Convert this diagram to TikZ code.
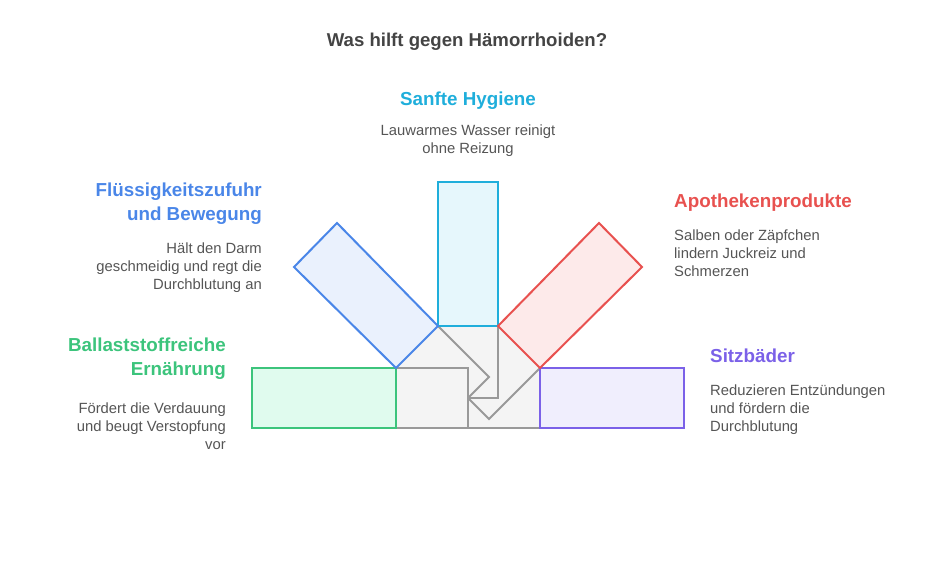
\documentclass[tikz,border=0pt]{standalone}
\usepackage{fontspec}
\setmainfont{Liberation Sans}
\definecolor{cyanS}{HTML}{1FAEDB}\definecolor{cyanF}{HTML}{E6F7FC}
\definecolor{blueS}{HTML}{4A86E8}\definecolor{blueF}{HTML}{EAF1FD}
\definecolor{redS}{HTML}{E8514F}\definecolor{redF}{HTML}{FDEAEA}
\definecolor{greenS}{HTML}{3CC47C}\definecolor{greenF}{HTML}{E0FBEE}
\definecolor{purpS}{HTML}{7B61E8}\definecolor{purpF}{HTML}{F0EEFD}
\definecolor{grayS}{HTML}{999999}\definecolor{grayF}{HTML}{F4F4F4}
\definecolor{txt}{HTML}{555555}\definecolor{ttl}{HTML}{444444}
\tikzset{
  body/.style={font=\fontsize{14.8}{18}\selectfont, text=txt, inner sep=0pt},
  head/.style={font=\fontsize{18.8}{24}\selectfont\bfseries, inner sep=0pt},
  seg/.style={draw=#1, line width=2pt, line join=miter},
  conn/.style={draw=grayS, line width=2pt},
}
\begin{document}
\begin{tikzpicture}[x=1pt,y=-1pt]
\useasboundingbox (0,0) rectangle (936,565);
% coordinates
\coordinate (bl) at (396,368);
\coordinate (ct) at (438,326);
\coordinate (cr) at (498,326);
\coordinate (br) at (540,368);
\coordinate (bb) at (540,428);
\coordinate (ba) at (396,428);
\coordinate (m1) at (468,368);
\coordinate (m2) at (468,428);
\coordinate (p1) at (489,377);
\coordinate (p2) at (468,398);
\coordinate (p3) at (498,398);
\coordinate (p4) at (489,419);
% gray hub
\fill[grayF] (bl) -- (ct) -- (cr) -- (br) -- (bb) -- (ba) -- cycle;
\draw[conn] (bl) -- (m1) -- (m2);
\draw[conn] (ba) -- (bb);
\draw[conn, line join=miter] (ct) -- (p1) -- (p2);
\draw[conn] (cr) -- (p3) -- (p2);
\draw[conn] (br) -- (p4) -- (p2);
% petals
\path[seg=greenS, fill=greenF] (252,368) rectangle (396,428);
\path[seg=purpS, fill=purpF] (540,368) rectangle (684,428);
\path[seg=cyanS, fill=cyanF] (438,182) rectangle (498,326);
\path[seg=blueS, fill=blueF] (bl) -- (ct) -- (337,223) -- (294,267) -- cycle;
\path[seg=redS, fill=redF] (cr) -- (br) -- (642,267) -- (599,223) -- cycle;
% texts (multi-line nodes: base = last line)
\node[head, text=ttl, font=\fontsize{18.6}{22}\selectfont\bfseries, anchor=base] (title) at (467,46) {Was hilft gegen Hämorrhoiden?};
\node[head, text=cyanS, anchor=base] (h1) at (468,105) {Sanfte Hygiene};
\node[body, anchor=base, align=center] (t1) at (468,153) {Lauwarmes Wasser reinigt\\ohne Reizung};
\node[head, text=blueS, anchor=base east, align=right] (h2) at (262,220) {Flüssigkeitszufuhr\\und Bewegung};
\node[body, anchor=base east, align=right] (t2) at (262,289) {Hält den Darm\\geschmeidig und regt die\\Durchblutung an};
\node[head, text=redS, anchor=base west, align=left] (h3) at (674,207) {Apothekenprodukte};
\node[body, anchor=base west, align=left] (t3) at (674,276) {Salben oder Zäpfchen\\lindern Juckreiz und\\Schmerzen};
\node[head, text=purpS, anchor=base west, align=left] (h4) at (710,362) {Sitzbäder};
\node[body, anchor=base west, align=left] (t4) at (710,431) {Reduzieren Entzündungen\\und fördern die\\Durchblutung};
\node[head, text=greenS, anchor=base east, align=right] (h5) at (226,375) {Ballaststoffreiche\\Ernährung};
\node[body, anchor=base east, align=right] (t5) at (226,449) {Fördert die Verdauung\\und beugt Verstopfung\\vor};
\end{tikzpicture}
\end{document}
